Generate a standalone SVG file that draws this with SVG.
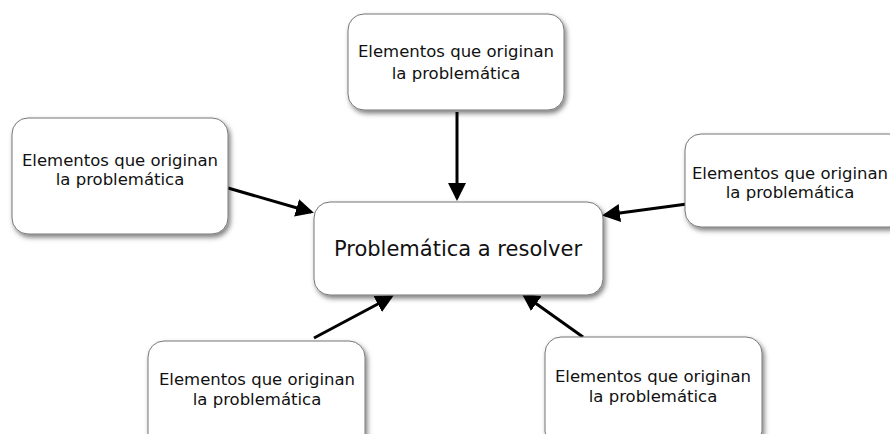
<svg xmlns="http://www.w3.org/2000/svg" width="890" height="434" viewBox="0 0 890 434">
<defs>
<filter id="sh" x="-10%" y="-10%" width="130%" height="140%">
<feDropShadow dx="2" dy="3" stdDeviation="2.5" flood-color="#000" flood-opacity="0.5"/>
</filter>
<marker id="ah" markerWidth="6" markerHeight="6" refX="5" refY="3" orient="auto" markerUnits="strokeWidth">
<path d="M0,0 L6,3 L0,6 Z" fill="#000"/>
</marker>
<style>
.box{fill:#fff;stroke:#777;stroke-width:1;filter:url(#sh)}
.t{font-family:"DejaVu Sans",sans-serif;font-size:16.5px;fill:#111;text-anchor:middle}
.c{font-family:"DejaVu Sans",sans-serif;font-size:21px;fill:#111;text-anchor:middle}
.ln{stroke:#000;stroke-width:3;fill:none;marker-end:url(#ah)}
</style>
</defs>
<rect width="890" height="434" fill="#fff"/>
<g id="connectors">
<line class="ln" x1="457" y1="112" x2="457" y2="198"/>
<line class="ln" x1="228" y1="188" x2="311" y2="212"/>
<line class="ln" x1="687" y1="204" x2="605" y2="215"/>
<line class="ln" x1="314" y1="338" x2="391" y2="297"/>
<line class="ln" x1="583" y1="337" x2="524" y2="295"/>
</g>
<g id="center">
<rect class="box" x="314" y="202" width="289" height="93" rx="16"/>
<text class="c" x="458" y="256">Problemática a resolver</text>
</g>
<g id="top">
<rect class="box" x="348" y="14" width="216" height="96" rx="16"/>
<text class="t" x="456" y="57">Elementos que originan</text>
<text class="t" x="456" y="79">la problemática</text>
</g>
<g id="left">
<rect class="box" x="12" y="118" width="216" height="116" rx="16"/>
<text class="t" x="120" y="166">Elementos que originan</text>
<text class="t" x="120" y="185">la problemática</text>
</g>
<g id="right">
<rect class="box" x="685" y="134" width="220" height="93" rx="16"/>
<text class="t" x="790" y="179">Elementos que originan</text>
<text class="t" x="790" y="198">la problemática</text>
</g>
<g id="bottom-left">
<rect class="box" x="148" y="341" width="217" height="110" rx="16"/>
<text class="t" x="257" y="385">Elementos que originan</text>
<text class="t" x="257" y="405">la problemática</text>
</g>
<g id="bottom-right">
<rect class="box" x="545" y="337" width="217" height="110" rx="16"/>
<text class="t" x="653" y="382">Elementos que originan</text>
<text class="t" x="653" y="402">la problemática</text>
</g>
</svg>
